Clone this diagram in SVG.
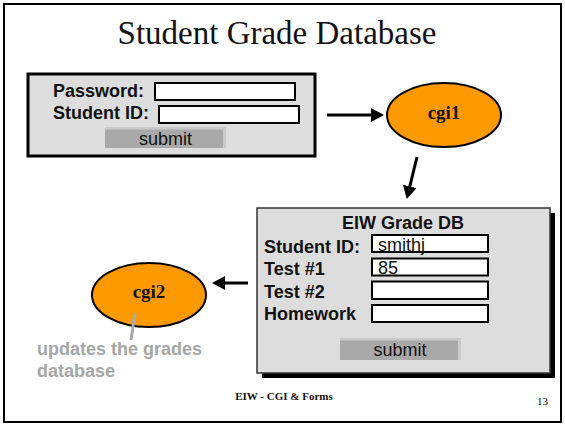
<svg xmlns="http://www.w3.org/2000/svg" width="565" height="424" viewBox="0 0 565 424">
<style>
.frame{fill:#fff;stroke:#000;stroke-width:2}
.form{fill:#dddddd}
.input{fill:#fff;stroke:#000;stroke-width:2}
.btn{fill:#a9a9a9}
.bevel{fill:#c9c9c9}
.lbl{font-family:"Liberation Sans",Arial,sans-serif;font-weight:bold;font-size:18px;fill:#111}
.val{font-family:"Liberation Sans",Arial,sans-serif;font-size:18px;fill:#111}
.cgi{fill:#ff9900;stroke:#000;stroke-width:2}
.cgit{font-family:"Liberation Serif","Times New Roman",serif;font-weight:bold;font-size:19px;fill:#111;text-anchor:middle}
.conn{stroke:#000;stroke-width:3;fill:none}
.note{font-family:"Liberation Sans",Arial,sans-serif;font-weight:bold;font-size:18px;fill:#a6a6a6}
.foot{font-family:"Liberation Serif","Times New Roman",serif;font-size:11px;fill:#111}
</style>
<defs>
<marker id="ah" markerUnits="userSpaceOnUse" markerWidth="14" markerHeight="14" refX="6" refY="7" orient="auto">
<path d="M0,0 L13,7 L0,14 z" fill="#000"/>
</marker>
</defs>
<rect class="frame" x="4" y="4" width="557" height="418"/>
<text x="277" y="44" font-family="'Liberation Serif','Times New Roman',serif" font-size="33" text-anchor="middle" fill="#111">Student Grade Database</text>

<g id="login-form">
<rect class="form" x="28" y="74" width="287" height="82" stroke="#000" stroke-width="3"/>
<text class="lbl" x="53" y="97">Password:</text>
<rect class="input" x="155" y="83" width="140" height="17"/>
<text class="lbl" x="53" y="119">Student ID:</text>
<rect class="input" x="159" y="106" width="140" height="17"/>
<g id="submit1">
<rect class="btn" x="105" y="127" width="121" height="21"/>
<polygon class="bevel" points="105,127 226,127 226,148 223,148 223,129.5 105,129.5"/>
<text class="val" x="165.5" y="145" text-anchor="middle">submit</text>
</g>
</g>

<g id="cgi1">
<ellipse class="cgi" cx="444" cy="115" rx="57" ry="32"/>
<text class="cgit" x="444" y="119">cgi1</text>
</g>

<g id="grade-form">
<rect x="262" y="213" width="293" height="165" fill="#000"/>
<rect class="form" x="257" y="208" width="293" height="165" stroke="#333" stroke-width="1.5"/>
<text class="lbl" x="403" y="229" text-anchor="middle">EIW Grade DB</text>
<text class="lbl" x="264" y="253">Student ID:</text>
<rect class="input" x="372" y="235" width="116" height="17"/>
<text class="val" x="378" y="251">smithj</text>
<text class="lbl" x="264" y="275">Test #1</text>
<rect class="input" x="372" y="258.5" width="116" height="17"/>
<text class="val" x="378" y="274">85</text>
<text class="lbl" x="264" y="298">Test #2</text>
<rect class="input" x="372" y="281.5" width="116" height="17.5"/>
<text class="lbl" x="264" y="320">Homework</text>
<rect class="input" x="372" y="305" width="116" height="17"/>
<g id="submit2">
<rect class="btn" x="340" y="338" width="121" height="22"/>
<polygon class="bevel" points="340,338 461,338 461,360 458,360 458,340.5 340,340.5"/>
<text class="val" x="400" y="356" text-anchor="middle">submit</text>
</g>
</g>

<g id="cgi2">
<ellipse class="cgi" cx="149" cy="295" rx="57" ry="32"/>
<text class="cgit" x="149" y="298">cgi2</text>
</g>

<g id="connectors">
<line class="conn" x1="327" y1="115" x2="377" y2="115" marker-end="url(#ah)"/>
<line class="conn" x1="417" y1="157" x2="408.4" y2="192.2" marker-end="url(#ah)"/>
<line class="conn" x1="248" y1="283" x2="219" y2="283" marker-end="url(#ah)"/>
<line x1="135" y1="313" x2="131" y2="340" stroke="#aaaaaa" stroke-width="3"/>
</g>

<g id="note">
<text class="note" x="37" y="355">updates the grades</text>
<text class="note" x="37" y="377">database</text>
</g>

<text class="foot" x="284" y="400" font-weight="bold" text-anchor="middle">EIW - CGI &amp; Forms</text>
<text class="foot" x="537" y="405">13</text>
</svg>
